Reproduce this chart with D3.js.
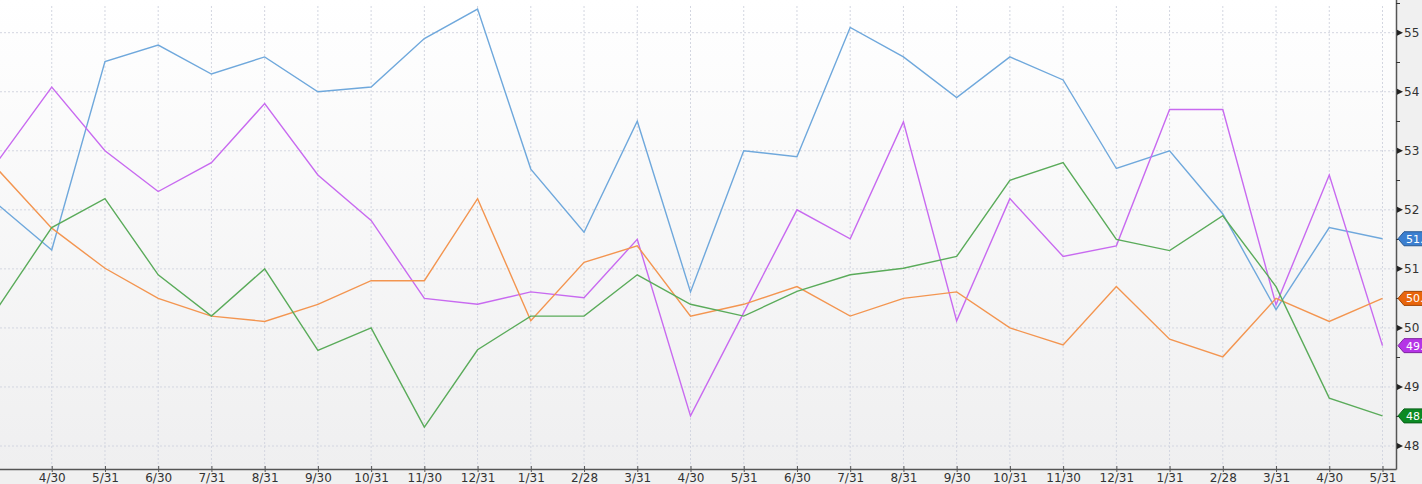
<!DOCTYPE html>
<html>
<head>
<meta charset="utf-8">
<script src="https://cdn.jsdelivr.net/npm/d3@7"></script>
<style>
  html, body { margin: 0; padding: 0; background: #f0f0f0; overflow: hidden; }
  svg { display: block; font-family: "DejaVu Sans", sans-serif; }
</style>
</head>
<body>
<svg id="chart"></svg>
<script>
const months = ["3/31", "4/30", "5/31", "6/30", "7/31", "8/31", "9/30", "10/31", "11/30", "12/31",
  "1/31", "2/28", "3/31", "4/30", "5/31", "6/30", "7/31", "8/31", "9/30", "10/31", "11/30", "12/31",
  "1/31", "2/28", "3/31", "4/30", "5/31"];

const blue = [52.08, 51.32, 54.51, 54.79, 54.30, 54.59, 54.00, 54.08, 54.90, 55.40, 52.69, 51.62, 53.50,
  50.61, 53.00, 52.90, 55.09, 54.59, 53.90, 54.59, 54.20, 52.70, 53.00, 51.93, 50.31, 51.70, 51.51];
const purple = [52.84, 54.08, 53.00, 52.31, 52.80, 53.80, 52.59, 51.82, 50.50, 50.40, 50.61, 50.51, 51.50,
  48.51, 50.26, 52.00, 51.51, 53.49, 50.12, 52.19, 51.21, 51.39, 53.70, 53.70, 50.39, 52.59, 49.70];
const orange = [52.67, 51.69, 51.01, 50.50, 50.20, 50.11, 50.40, 50.80, 50.80, 52.19, 50.12, 51.11, 51.39,
  50.20, 50.40, 50.70, 50.20, 50.50, 50.61, 50.00, 49.71, 50.70, 49.81, 49.51, 50.50, 50.11, 50.50];
const green = [50.36, 51.70, 52.19, 50.90, 50.20, 51.00, 49.62, 50.00, 48.32, 49.63, 50.20, 50.20, 50.90,
  50.40, 50.20, 50.62, 50.90, 51.01, 51.21, 52.50, 52.80, 51.50, 51.31, 51.90, 50.70, 48.81, 48.51];

const yTicks = [48, 49, 50, 51, 52, 53, 54, 55];

const series = [
  {values: blue, color: "#6fa8dc", flag: "#3b7fd0"},
  {values: purple, color: "#c86af0", flag: "#b534e6"},
  {values: orange, color: "#f39550", flag: "#e8650c"},
  {values: green, color: "#5aab5a", flag: "#0c8a24"}
];

const width = 1422, height = 484;
const axisX = 1396, axisY = 469;

const svg = d3.select("#chart").attr("width", width).attr("height", height);

const x = d3.scalePoint()
      .domain(d3.range(months.length))
      .range([-1.5, 1382.5]);

const y = d3.scaleLinear()
      .domain([48, 55])
      .range([446, 32.7]);

// background gradient
const grad = svg.append("defs").append("linearGradient")
      .attr("id", "bg").attr("x1", 0).attr("y1", 0).attr("x2", 0).attr("y2", 1);
grad.append("stop").attr("offset", "0%").attr("stop-color", "#ffffff");
grad.append("stop").attr("offset", "100%").attr("stop-color", "#efeff0");

svg.append("rect").attr("width", width).attr("height", height).attr("fill", "#f0f0f0");
svg.append("rect").attr("width", axisX).attr("height", axisY).attr("fill", "url(#bg)");

// grid
svg.append("g")
  .selectAll("line")
  .data(yTicks)
  .join("line")
  .attr("x1", 0).attr("x2", axisX)
  .attr("y1", d => y(d)).attr("y2", d => y(d))
  .attr("stroke", "#d3d6e0")
  .attr("stroke-dasharray", "2,2");

svg.append("g")
  .selectAll("line")
  .data(d3.range(1, months.length))
  .join("line")
  .attr("x1", d => x(d)).attr("x2", d => x(d))
  .attr("y1", 6).attr("y2", axisY)
  .attr("stroke", "#d3d6e0")
  .attr("stroke-dasharray", "2,2");

// lines
const line = d3.line()
      .x((d, i) => x(i))
      .y(d => y(d));

svg.append("g")
  .selectAll("path")
  .data(series)
  .join("path")
  .attr("fill", "none")
  .attr("stroke", d => d.color)
  .attr("stroke-width", 1.4)
  .attr("stroke-linejoin", "miter")
  .attr("d", d => line(d.values));

// bottom axis
const xAxis = g => g
      .attr("transform", `translate(0,${axisY})`)
      .call(d3.axisBottom(x).tickSize(3).tickSizeOuter(0).tickFormat(i => months[i]).tickValues(d3.range(1, months.length)))
      .call(g => g.select(".domain").remove())
      .call(g => g.selectAll(".tick line").attr("y1", -3).attr("stroke", "#555"))
      .call(g => g.selectAll("text").attr("y", 4).attr("font-size", 12).attr("fill", "#333").attr("font-family", "DejaVu Sans, sans-serif"));

svg.append("g").call(xAxis);

svg.append("line")
  .attr("x1", 0).attr("x2", axisX + 0.5)
  .attr("y1", axisY + 0.5).attr("y2", axisY + 0.5)
  .attr("stroke", "#555").attr("stroke-width", 1.5);

svg.append("line")
  .attr("x1", axisX + 0.5).attr("x2", axisX + 0.5)
  .attr("y1", 0).attr("y2", axisY + 0.5)
  .attr("stroke", "#555").attr("stroke-width", 1.5);

// right axis: minor ticks, triangles, labels
svg.append("g")
  .selectAll("line")
  .data(d3.range(48.5, 55.6, 1))
  .join("line")
  .attr("x1", axisX).attr("x2", axisX + 4)
  .attr("y1", d => Math.round(y(d)) + 0.5).attr("y2", d => Math.round(y(d)) + 0.5)
  .attr("stroke", "#333");

const rt = svg.append("g")
  .selectAll("g")
  .data(yTicks)
  .join("g")
  .attr("transform", d => `translate(${axisX},${y(d)})`);

rt.append("path")
  .attr("d", "M1,-3L7,0L1,3Z")
  .attr("fill", "#222");

rt.append("text")
  .attr("x", 8)
  .attr("dy", "0.36em")
  .attr("font-size", 12)
  .attr("fill", "#333")
  .text(d => d);

// value flags
const flags = svg.append("g")
  .selectAll("g")
  .data(series)
  .join("g")
  .attr("transform", d => `translate(${axisX + 2},${y(d.values[d.values.length - 1])})`);

flags.append("path")
  .attr("d", "M0,0L6,-7L40,-7L40,7L6,7Z")
  .attr("fill", d => d.flag)
  .attr("stroke", d => d3.color(d.flag).darker(1))
  .attr("stroke-width", 1);

flags.append("text")
  .attr("x", 8)
  .attr("dy", "0.36em")
  .attr("font-size", 11)
  .attr("fill", "#fff")
  .text(d => d3.format(".2f")(d.values[d.values.length - 1]));
</script>
</body>
</html>
